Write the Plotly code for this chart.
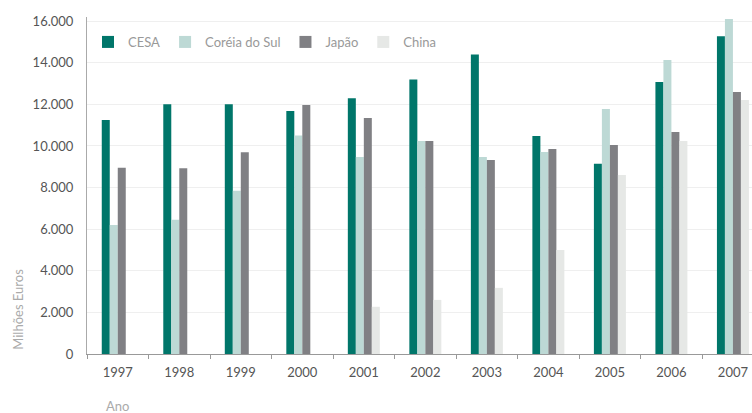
import plotly.graph_objects as go

anos = ["1997", "1998", "1999", "2000", "2001", "2002", "2003", "2004", "2005", "2006", "2007"]
cesa = [11250, 12000, 12000, 11680, 12300, 13200, 14400, 10480, 9140, 13070, 15280]
coreia = [6200, 6450, 7850, 10500, 9470, 10240, 9470, 9710, 11780, 14130, 16100]
japao = [8950, 8930, 9700, 11970, 11350, 10240, 9330, 9860, 10050, 10670, 12590]
china = [0, 0, 0, 0, 2270, 2600, 3180, 5000, 8610, 10240, 12210]

series = [
    ("CESA", cesa, "#00766A"),
    ("Coréia do Sul", coreia, "#BDD9D5"),
    ("Japão", japao, "#808084"),
    ("China", china, "#E6E8E6"),
]

fig = go.Figure()
for name, vals, col in series:
    fig.add_trace(go.Bar(x=anos, y=vals, name=name, marker=dict(color=col, line=dict(width=0))))

W, H = 752, 413
ml, mr = 87, 0
mt = 17
y0 = 354.3
mb = H - y0
pw = W - ml - mr
ph = y0 - mt

fig.update_layout(
    width=W, height=H,
    margin=dict(l=ml, r=mr, t=mt, b=mb, pad=0),
    paper_bgcolor="white", plot_bgcolor="white",
    barmode="group", bargap=0.48, bargroupgap=0,
    separators=",.",
    font=dict(family="Lato", size=13, color="#555555"),
    legend=dict(orientation="h", x=(88 - 87) / pw, xanchor="left",
                y=(354.3 - 42) / ph, yanchor="middle",
                font=dict(size=13, color="#999999"), bgcolor="rgba(0,0,0,0)",
                itemwidth=30, traceorder="normal"),
    showlegend=True,
    xaxis=dict(type="category", range=[-0.5, 10.31], tickson="boundaries",
               ticks="outside", ticklen=4, tickcolor="#999999",
               showline=True, linecolor="#999999", linewidth=1,
               showgrid=False, tickfont=dict(size=13, color="#555555"),
               ticklabelstandoff=6),
    yaxis=dict(range=[0, 16200], tickvals=[0, 2000, 4000, 6000, 8000, 10000, 12000, 14000, 16000],
               tickformat=",.0f", showgrid=True, gridcolor="#EFEFEF", gridwidth=1,
               zeroline=False, showline=True, linecolor="#AAAAAA", linewidth=1,
               ticks="", tickfont=dict(size=13, color="#555555"), ticklabelstandoff=10),
    annotations=[
        dict(text="Milhões Euros", xref="paper", yref="paper",
             x=(18 - 87) / pw, y=(354.3 - 310) / ph, textangle=-90,
             showarrow=False, font=dict(size=13, color="#AAAAAA"),
             xanchor="center", yanchor="middle"),
        dict(text="Ano", xref="paper", yref="paper",
             x=(104 - 87) / pw, y=(354.3 - 406) / ph,
             showarrow=False, font=dict(size=13, color="#AAAAAA"),
             xanchor="left", yanchor="middle"),
    ],
)

fig.write_html(
    "out.html",
    config={"displayModeBar": False},
    post_script="document.body.style.margin='0px';document.body.style.overflow='hidden';",
)
